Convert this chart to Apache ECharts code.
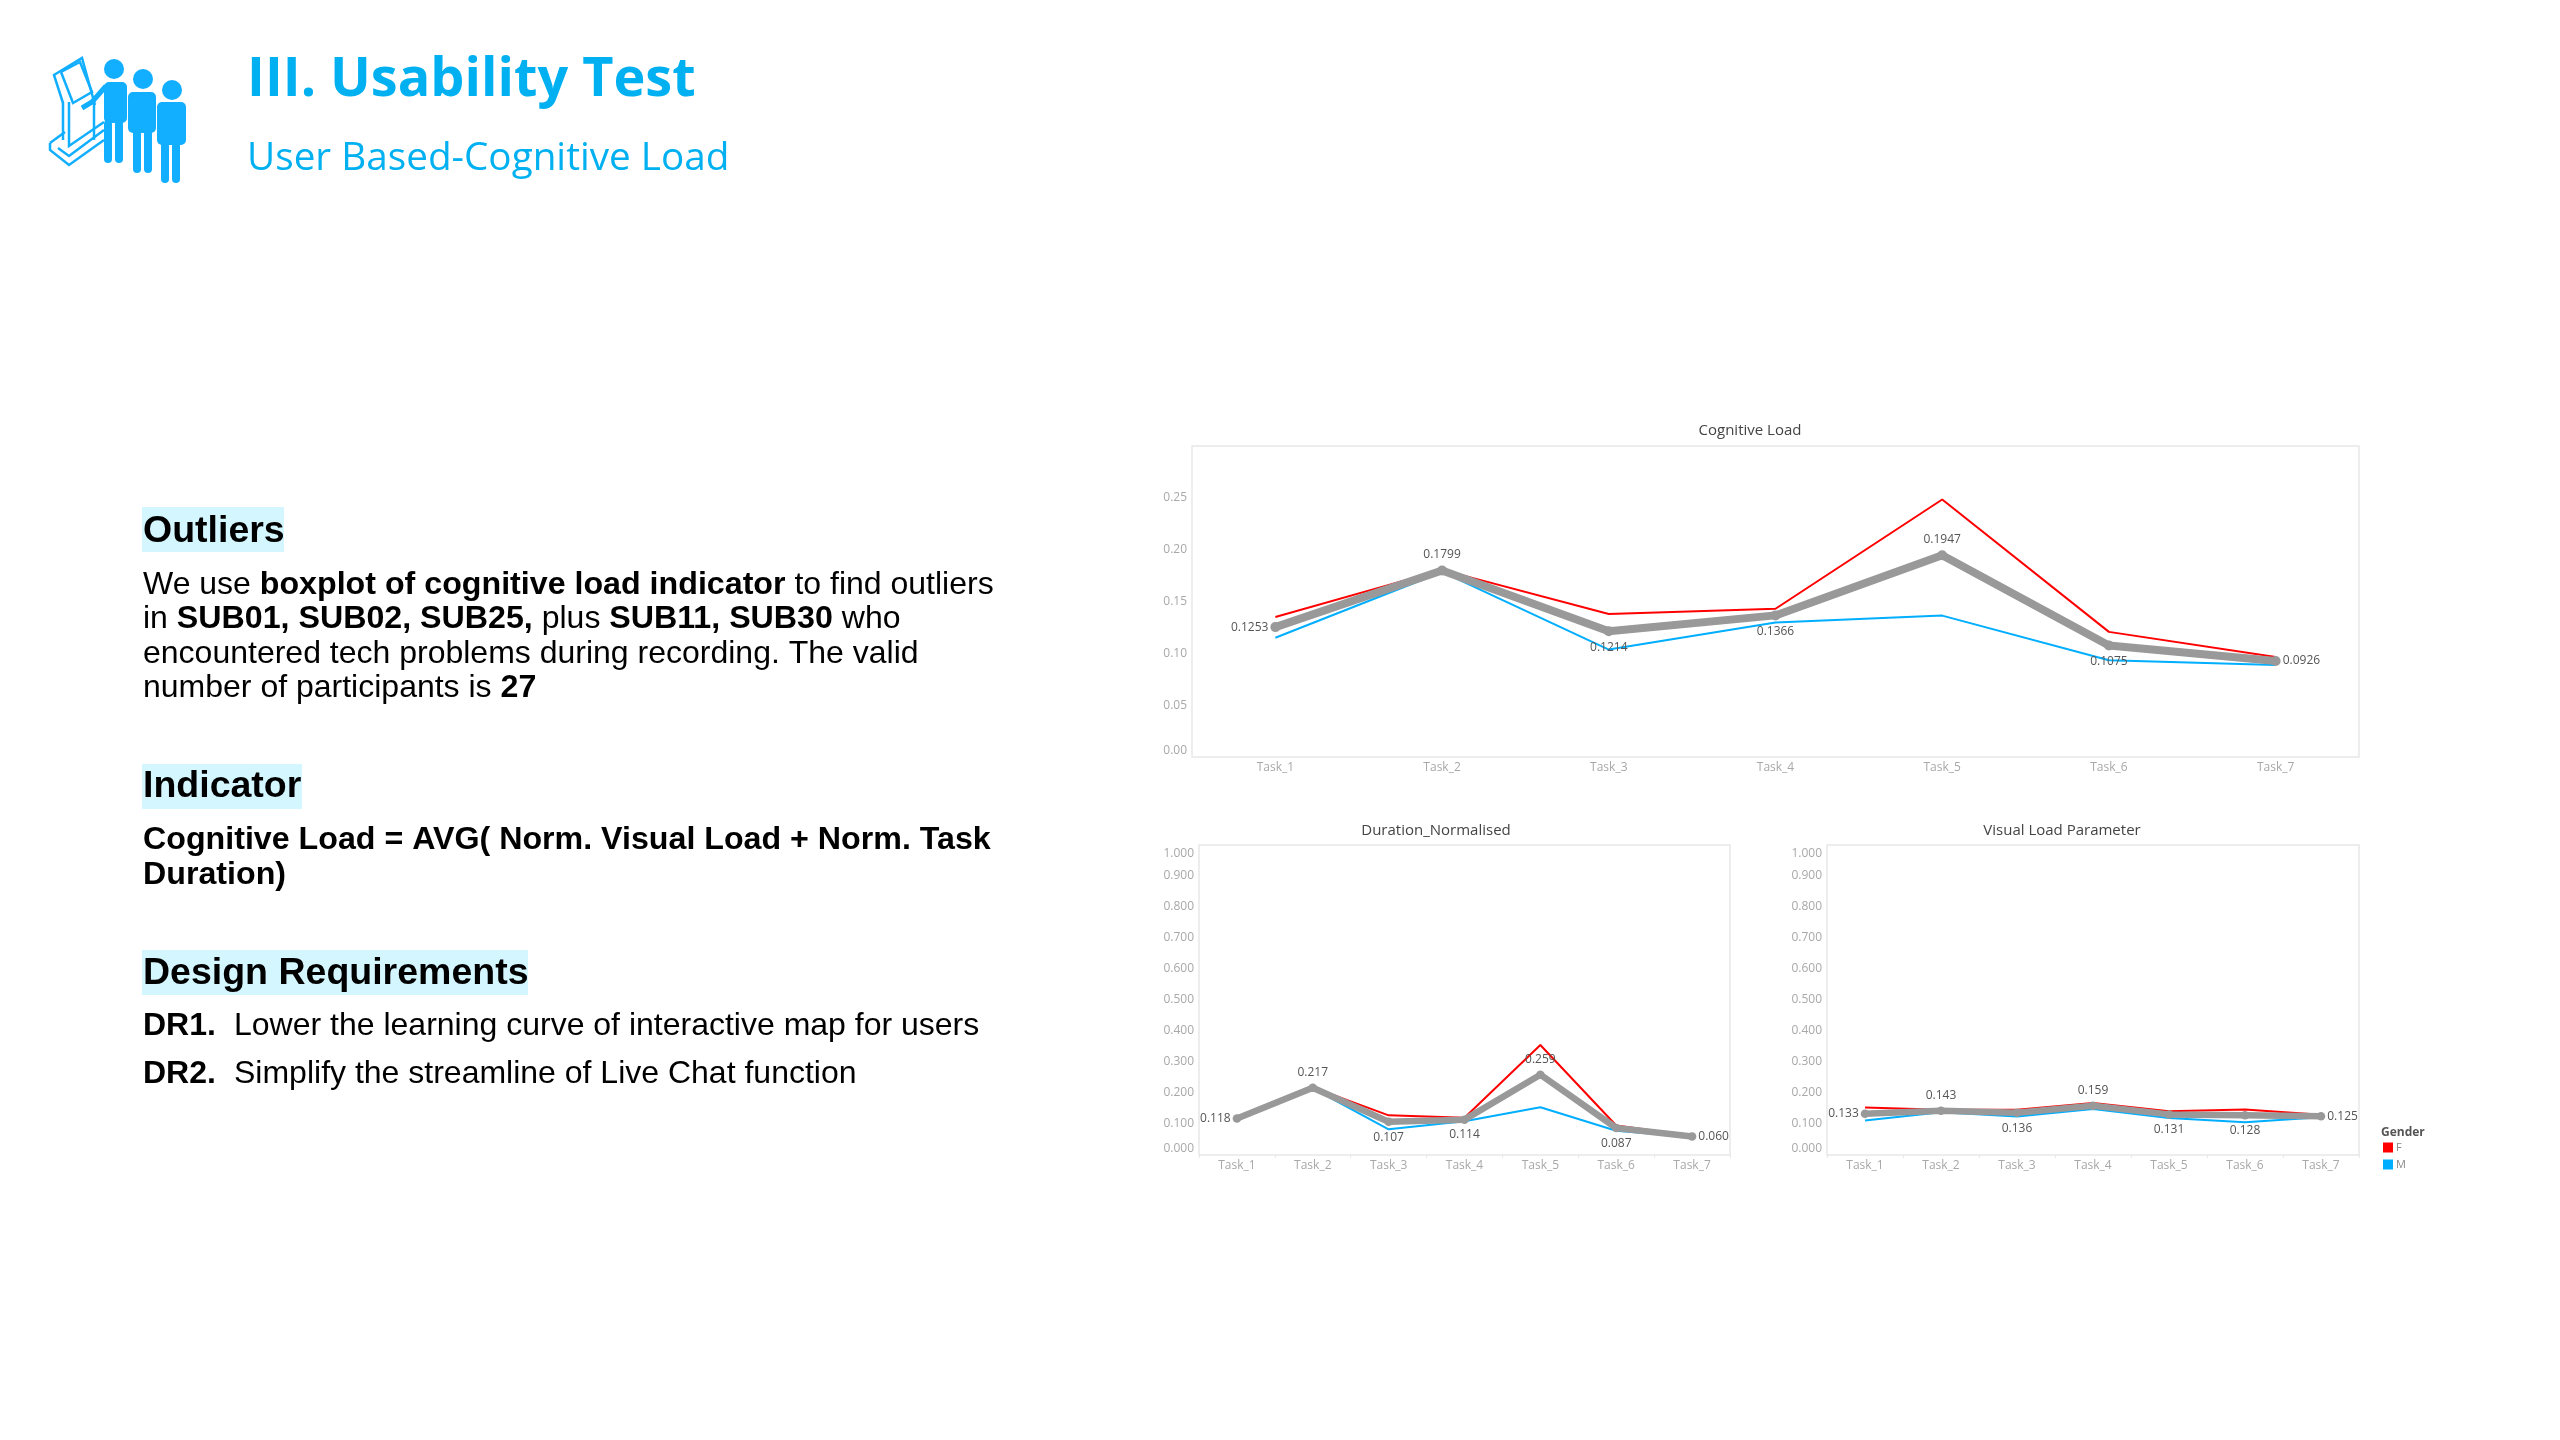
<!DOCTYPE html>
<html><head><meta charset="utf-8">
<style>html,body{margin:0;padding:0;background:#fff}#c{width:2560px;height:1440px}</style>
<script src="https://cdn.jsdelivr.net/npm/echarts@6/dist/echarts.min.js"></script>
</head><body><div id="c"></div>
<script>
const tasks = ['Task_1','Task_2','Task_3','Task_4','Task_5','Task_6','Task_7'];
const cognitiveF   = [0.135,0.1805,0.138,0.143,0.2484,0.1207,0.0965];
const cognitiveM   = [0.115,0.1785,0.1036,0.1297,0.1364,0.0933,0.0888];
const cognitiveAvg = [0.1253,0.1799,0.1214,0.1366,0.1947,0.1075,0.0926];
const durationF    = [0.119,0.218,0.128,0.120,0.355,0.095,0.062];
const durationM    = [0.117,0.215,0.083,0.109,0.154,0.078,0.058];
const durationAvg  = [0.118,0.217,0.107,0.114,0.259,0.087,0.060];
const visualF      = [0.153,0.146,0.146,0.168,0.141,0.147,0.130];
const visualM      = [0.111,0.138,0.124,0.148,0.119,0.106,0.122];
const visualAvg    = [0.133,0.143,0.136,0.159,0.131,0.128,0.125];

const RED='#ff0000', BLUE='#00aeff', GRAY='#999999', CY='#00b0f0';
const FONT='"Open Sans"', BODY='"Liberation Sans"';

const panels = [
 {title:'Cognitive Load', left:1192,right:2359,top:446,bottom:757,max:0.3,interval:0.05,digits:2,dec:4,F:cognitiveF,M:cognitiveM,A:cognitiveAvg,pos:['left','top','bottom','bottom','top','bottom','right'],w:8,titleX:1750,titleY:431},
 {title:'Duration_Normalised', left:1199,right:1730,top:845,bottom:1155,max:1,interval:0.1,digits:3,dec:3,F:durationF,M:durationM,A:durationAvg,pos:['left','top','bottom','bottom','top','bottom','right'],w:6.5,titleX:1436,titleY:831},
 {title:'Visual Load Parameter', left:1827,right:2359,top:845,bottom:1155,max:1,interval:0.1,digits:3,dec:3,F:visualF,M:visualM,A:visualAvg,pos:['left','top','bottom','top','bottom','bottom','right'],w:6.5,titleX:2062,titleY:831}
];

const grid=[],xAxis=[],yAxis=[],series=[],title=[];
panels.forEach((p,i)=>{
  grid.push({left:p.left,top:p.top,width:p.right-p.left,height:p.bottom-p.top,show:true,borderColor:'#e8e8e8',borderWidth:1.5,backgroundColor:'#fff'});
  title.push({text:p.title,left:p.titleX,top:p.titleY,padding:0,textAlign:'center',textVerticalAlign:'middle',textStyle:{fontFamily:FONT,fontSize:15,fontWeight:'normal',color:'#444'}});
  xAxis.push({type:'category',gridIndex:i,data:tasks,boundaryGap:true,
    axisLine:{show:false},axisTick:{show:i>0,length:3,lineStyle:{color:'#e8e8e8'}},splitLine:{show:false},
    axisLabel:{fontFamily:FONT,fontSize:12,color:'#a8a8a8',margin:5,interval:0}});
  yAxis.push({type:'value',gridIndex:i,min:0,max:p.max,interval:p.interval,
    axisLine:{show:false},axisTick:{show:false},splitLine:{show:false},
    axisLabel:{fontFamily:FONT,fontSize:12,color:'#a8a8a8',margin:5,padding:[3,0,0,0],
      verticalAlignMinLabel:'bottom',verticalAlignMaxLabel:'top',showMaxLabel:i>0,
      formatter:v=>(i===0&&v>0.26)?'':v.toFixed(p.digits)}});
  [['F',p.F,RED],['M',p.M,BLUE]].forEach(([n,d,c])=>series.push({
    name:n,type:'line',xAxisIndex:i,yAxisIndex:i,data:d,showSymbol:false,symbol:'none',
    lineStyle:{color:c,width:2},itemStyle:{color:c},silent:true,animation:false,z:2}));
  series.push({name:'Avg',type:'line',xAxisIndex:i,yAxisIndex:i,symbol:'circle',symbolSize:p.w+2,showSymbol:true,
    data:p.A.map((v,k)=>({value:v,label:{position:p.pos[k],distance:(p.pos[k]==='left'||p.pos[k]==='right')?2:5}})),
    lineStyle:{color:GRAY,width:p.w},itemStyle:{color:GRAY},animation:false,z:3,
    label:{show:true,fontFamily:FONT,fontSize:12,color:'#555',formatter:o=>o.value.toFixed(p.dec)}});
});

const heads=[[114,69,10],[143,79,10],[172,90,10]];
const bodies=[[104,82,23,41],[128,92,28,41],[157,102,29,43]];
const legs=[[104,120,8,43],[115,120,8,43],[133,130,8,43],[144,130,8,43],[161,142,8,41],[172,142,8,41]];
const g=[];
const rect=(x,y,w,h,fill,r)=>g.push({type:'rect',shape:{x,y,width:w,height:h,r:r||0},style:{fill},z:1});
const text=(x,y,t,size,bold,color,fam,rich)=>g.push({type:'text',x,y,z:2,style:{text:t,fontFamily:fam||BODY,fontSize:size,fontWeight:bold?'bold':'normal',fill:color||'#000',verticalAlign:'middle',rich}});
const line=(pts,w)=>g.push({type:'polyline',shape:{points:pts},style:{fill:null,stroke:'#12aeff',lineWidth:w||2.5,lineJoin:'miter'},z:1});

// icon
heads.forEach(h=>g.push({type:'circle',shape:{cx:h[0],cy:h[1],r:h[2]},style:{fill:'#12aeff'},z:1}));
bodies.forEach(b=>rect(b[0],b[1],b[2],b[3],'#12aeff',5));
legs.forEach(b=>rect(b[0],b[1],b[2],b[3],'#12aeff',4));
line([[63,140],[63,103],[54,75],[82,58],[95,105]]);
line([[61,72],[80,62],[92,92],[73,103],[61,72]]);
line([[69,102],[69,146],[104,122]]);
line([[50,143],[50,150],[69,165],[104,140]]);
line([[50,143],[65,132]]);
line([[58,148],[69,156],[104,130]]);
line([[82,108],[92,102],[106,86]],5);
line([[94,104],[94,140]]);

// header
text(247,81,'III. Usability Test',54,true,CY,'"Open Sans"');
text(247,159,'User Based-Cognitive Load',38.7,false,CY,'"Open Sans"');

// left text
const rich={b:{fontFamily:BODY,fontSize:32.2,fontWeight:'bold',fill:'#000'},n:{fontFamily:BODY,fontSize:32,fill:'#000'}};
rect(142,507,142,45,'#d4f6ff');
rect(142,764,160,45,'#d4f6ff');
rect(142,950,386,45,'#d4f6ff');
text(143,532,'Outliers',37.5,true);
text(143,787,'Indicator',37.5,true);
text(143,974,'Design Requirements',37.5,true);
text(143,585,'{n|We use }{b|boxplot of cognitive load indicator}{n| to find outliers}',32,false,'#000',BODY,rich);
text(143,619,'{n|in }{b|SUB01, SUB02, SUB25,}{n| plus }{b|SUB11, SUB30}{n| who}',32,false,'#000',BODY,rich);
text(143,654,'encountered tech problems during recording. The valid',32);
text(143,688,'{n|number of participants is }{b|27}',32,false,'#000',BODY,rich);
text(143,840,'Cognitive Load = AVG( Norm. Visual Load + Norm. Task',32.2,true);
text(143,875,'Duration)',32.2,true);
text(143,1026,'DR1.',32,true);
text(234,1026,'Lower the learning curve of interactive map for users',32);
text(143,1074,'DR2.',32,true);
text(234,1074,'Simplify the streamline of Live Chat function',32);
// legend title
text(2381,1133,'Gender',12,true,'#555',FONT);

const chart=echarts.init(document.getElementById('c'),null,{renderer:'canvas',width:2560,height:1440});
chart.setOption({
  animation:false,backgroundColor:'#fff',
  title,grid,xAxis,yAxis,series,graphic:g,
  tooltip:{show:false},
  legend:{data:['F','M'],left:2383,top:1142,padding:0,orient:'vertical',icon:'rect',itemWidth:10,itemHeight:10,itemGap:6,
    textStyle:{fontFamily:FONT,fontSize:11,color:'#888',padding:[0,0,0,-2]},selectedMode:false}
});
</script></body></html>
